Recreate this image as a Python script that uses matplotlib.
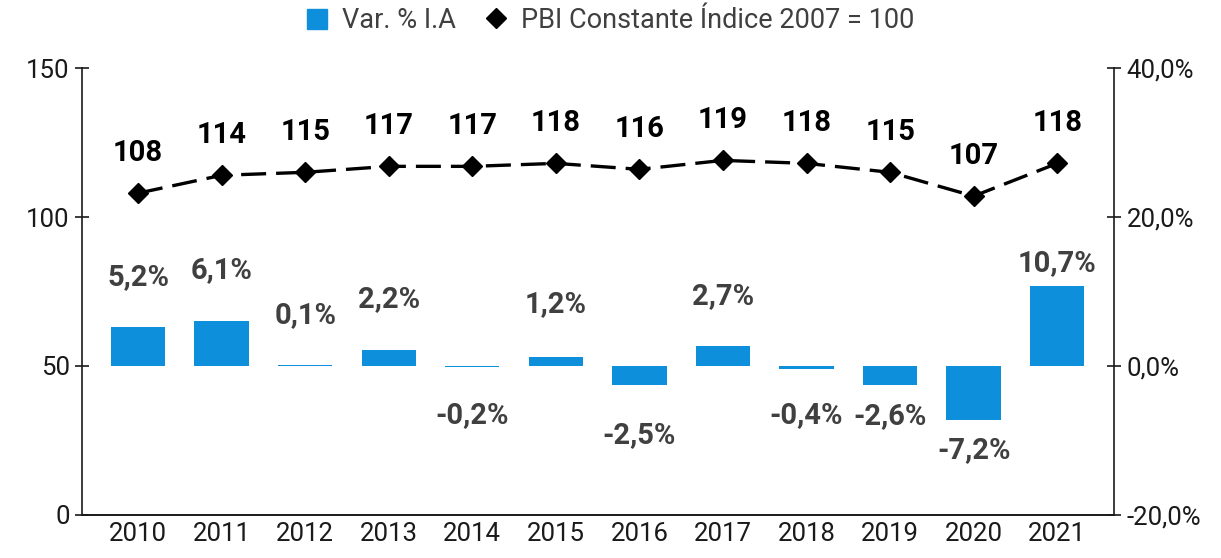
import matplotlib.pyplot as plt
from matplotlib.lines import Line2D
from matplotlib.patches import Patch
from matplotlib.ticker import FuncFormatter

plt.rcParams["font.family"] = ["Roboto", "DejaVu Sans"]

years = ["2010", "2011", "2012", "2013", "2014", "2015", "2016", "2017", "2018", "2019", "2020", "2021"]
var_ia = [5.2, 6.1, 0.1, 2.2, -0.2, 1.2, -2.5, 2.7, -0.4, -2.6, -7.2, 10.7]
pbi_index = [108, 114, 115, 117, 117, 118, 116, 119, 118, 115, 107, 118]

BLUE = "#0e8fdc"
# label distance from the bar end, in points (a few were nudged in the original)
bar_label_offsets = [36, 36, 36, 36, 34, 38, 36, 36, 33, 22, 22, 17]

fig = plt.figure(figsize=(12.21, 5.58), dpi=100)
ax = fig.add_axes([0.0672, 0.0771, 0.8452, 0.801])
ax2 = ax.twinx()
ax.set_zorder(ax2.get_zorder() + 1)
ax.patch.set_visible(False)

x = list(range(len(years)))

ax2.bar(x, var_ia, width=0.65, color=BLUE, zorder=2)
for i, v in enumerate(var_ia):
    off = bar_label_offsets[i] if v >= 0 else -bar_label_offsets[i]
    ax2.annotate(f"{v:.1f}%".replace(".", ","), xy=(i, v), xytext=(0, off),
                 textcoords="offset points", ha="center", va="center",
                 fontsize=21, fontweight="bold", color="#404040")

ax.plot(x, pbi_index, color="black", lw=2.4, dashes=(7.5, 3), marker="D",
        markersize=10, zorder=3)
for i, v in enumerate(pbi_index):
    ax.annotate(f"{v:.0f}", xy=(i, v), xytext=(0, 29), textcoords="offset points",
                ha="center", va="center", fontsize=21, fontweight="bold", color="black",
                zorder=2,
                arrowprops=dict(arrowstyle="-", color="#d9d9d9", lw=1,
                                shrinkA=12, shrinkB=7))

ax.set_xlim(-0.67, 11.68)
ax.set_ylim(0, 150)
ax.set_yticks([0, 50, 100, 150])
ax2.set_ylim(-20, 40)
ax2.set_yticks([-20, 0, 20, 40])
ax2.yaxis.set_major_formatter(FuncFormatter(lambda v, p: f"{v:.1f}%".replace(".", ",")))

ax.set_xticks(x)
ax.set_xticklabels(years)
ax.tick_params(axis="x", length=0, labelsize=18.5, colors="#1a1a1a", pad=5)
ax.tick_params(axis="y", direction="inout", length=10, width=1.2, labelsize=18.5,
               colors="#1a1a1a", pad=4)
ax2.tick_params(axis="y", direction="inout", length=10, width=1.2, labelsize=18.5,
                colors="#1a1a1a", pad=4)

for a in (ax, ax2):
    a.spines["top"].set_visible(False)
    for s in ("left", "right", "bottom"):
        a.spines[s].set_linewidth(1.2)
        a.spines[s].set_color("#1a1a1a")
ax.spines["right"].set_visible(False)
ax2.spines["left"].set_visible(False)

handles = [Patch(color=BLUE, label="Var. % I.A"),
           Line2D([], [], color="black", marker="D", lw=0, markersize=10,
                  label="PBI Constante Índice 2007 = 100")]
leg = fig.legend(handles=handles, loc="center", bbox_to_anchor=(0.5, 0.963), ncol=2,
                 frameon=False, fontsize=19.5, handlelength=0.75, handleheight=0.75,
                 handletextpad=0.55, columnspacing=1.1)
for t in leg.get_texts():
    t.set_color("#404040")

fig.savefig("out.png", dpi=100)
